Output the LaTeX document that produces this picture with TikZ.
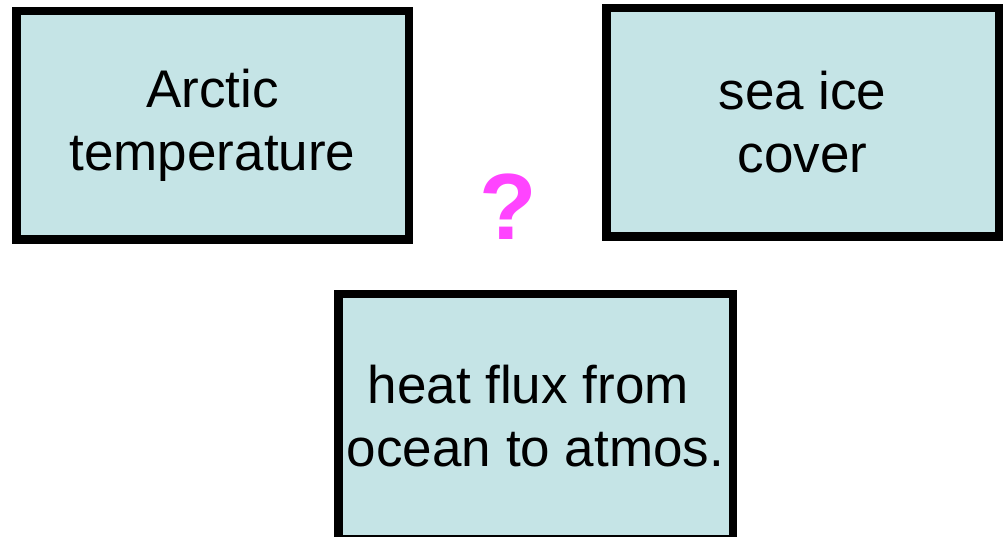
\documentclass[tikz,border=0pt]{standalone}
\usepackage{fontspec}
\setmainfont{Liberation Sans}
\definecolor{boxfill}{RGB}{197,228,230}
\definecolor{qmark}{RGB}{255,68,255}
\begin{document}
\begin{tikzpicture}[x=1pt,y=-1pt,
  card/.style={draw=black, line width=8.5pt, fill=boxfill, rectangle, inner sep=0pt,
    align=center, font=\fontsize{53}{63}\selectfont},
]
\useasboundingbox (0,0) rectangle (1007,537);
\node[card, minimum width=392.5pt, minimum height=228.5pt] (arctic) at (212.5,125.5) {Arctic\\temperature};
\node[card, minimum width=392.5pt, minimum height=228.5pt] (ice) at (802.5,122.5) {sea ice\\cover};
\node[card, minimum width=394.5pt, minimum height=244.5pt] (flux) at (535.5,416.5) {heat flux from\rule{0.278em}{0pt}\\ocean to atmos.};
\node[text=qmark, font=\fontsize{94}{94}\selectfont\bfseries, inner sep=0pt] (q) at (508,207) {?};
\end{tikzpicture}
\end{document}
